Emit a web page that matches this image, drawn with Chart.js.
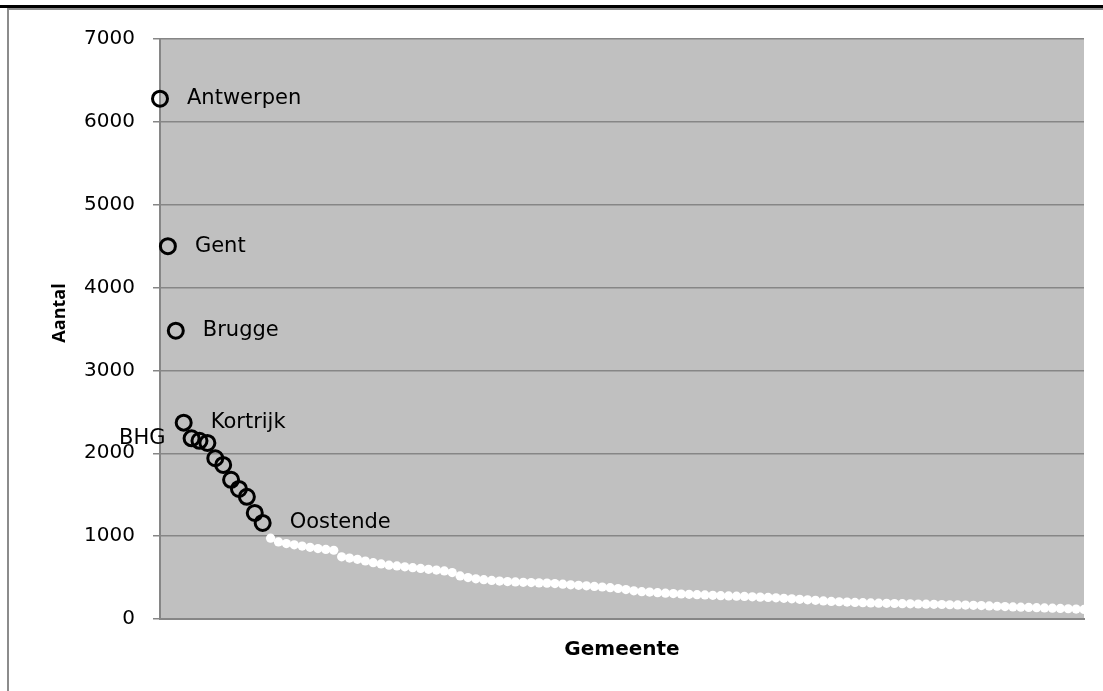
<!DOCTYPE html>
<html>
<head>
<meta charset="utf-8">
<script src="https://cdn.jsdelivr.net/npm/chart.js@4/dist/chart.umd.min.js"></script>
<style>
  html, body { margin: 0; padding: 0; background: #fff; }
  #wrap { width: 1103px; height: 691px; position: relative; }
</style>
</head>
<body>
<div id="wrap"><canvas id="chart"></canvas></div>
<script>
// Grootste gemeenten (omcirkeld) en overige gemeenten (witte punten)
const grote = [6280, 4500, 3480, 2370, 2180, 2150, 2125, 1940, 1860, 1680, 1570, 1475, 1280, 1160];
const overige = [
    975, 930, 910, 895, 880, 865, 850, 840, 830, 750,
    735, 720, 700, 680, 665, 650, 640, 630, 620, 610,
    600, 590, 580, 560, 520, 500, 485, 475, 465, 458,
    452, 447, 443, 440, 436, 433, 428, 420, 413, 406,
    400, 393, 386, 378, 368, 355, 340, 330, 325, 318,
    312, 307, 302, 298, 294, 290, 286, 282, 278, 275,
    272, 268, 264, 260, 256, 250, 244, 238, 232, 225,
    218, 212, 208, 204, 200, 197, 194, 191, 189, 187,
    185, 183, 181, 179, 177, 175, 172, 170, 168, 165,
    162, 158, 154, 150, 146, 143, 140, 137, 134, 131,
    128, 124, 120, 116
];
const labelNamen = ['Antwerpen', 'Gent', 'Brugge', 'Kortrijk', 'BHG', '', '', '', '', '', '', '', '', 'Oostende'];
const yTicks = [0, 1000, 2000, 3000, 4000, 5000, 6000, 7000];

const n = grote.length + overige.length;
const categories = Array.from({ length: n }, (_, i) => String(i + 1));
const groteData = [...grote, ...Array(overige.length).fill(null)];
const overigeData = [...Array(grote.length).fill(null), ...overige];

const lijnKleur = '#868686';

// grijze plotachtergrond, kader van de pagina en y-astitel
const achtergrond = {
    id: 'achtergrond',
    beforeDraw(chart) {
        const { ctx, chartArea: a } = chart;
        ctx.save();
        ctx.fillStyle = '#c0c0c0';
        ctx.fillRect(a.left, a.top, a.right - a.left, a.bottom - a.top);
        ctx.restore();
    },
    afterDraw(chart) {
        const ctx = chart.ctx;
        ctx.save();
        ctx.fillStyle = '#000';
        ctx.fillRect(0, 5, 1103, 3);
        ctx.fillStyle = '#8c8c8c';
        ctx.fillRect(7, 8, 1096, 2);
        ctx.fillRect(7, 8, 2, 683);
        // Aantal (iets boven het midden, zoals in het origineel)
        ctx.translate(60, 313);
        ctx.rotate(-Math.PI / 2);
        ctx.font = 'bold 18px "Open Sans"';
        ctx.fillStyle = '#000';
        ctx.textAlign = 'center';
        ctx.textBaseline = 'middle';
        ctx.fillText('Aantal', 0, 0);
        ctx.restore();
    }
};

// namen naast de omcirkelde punten
const namen = {
    id: 'namen',
    afterDatasetsDraw(chart) {
        const ctx = chart.ctx;
        const meta = chart.getDatasetMeta(0);
        ctx.save();
        ctx.font = '21px "DejaVu Sans"';
        ctx.fillStyle = '#000';
        ctx.textBaseline = 'middle';
        labelNamen.forEach((naam, i) => {
            if (!naam) return;
            const pt = meta.data[i];
            if (naam === 'BHG') {
                ctx.textAlign = 'right';
                ctx.fillText(naam, pt.x - 26, pt.y);
            } else {
                ctx.textAlign = 'left';
                ctx.fillText(naam, pt.x + 27, pt.y);
            }
        });
        ctx.restore();
    }
};

new Chart(document.getElementById('chart'), {
    type: 'line',
    data: {
        labels: categories,
        datasets: [
            {
                label: 'Grote gemeenten',
                data: groteData,
                showLine: false,
                pointStyle: 'circle',
                pointRadius: 7.5,
                pointBorderWidth: 3,
                pointBorderColor: '#000',
                pointBackgroundColor: 'rgba(0,0,0,0)',
                clip: false
            },
            {
                label: 'Overige gemeenten',
                data: overigeData,
                showLine: false,
                pointRadius: 4.6,
                pointBorderWidth: 0,
                pointBackgroundColor: '#fff',
                pointBorderColor: '#fff',
                clip: false
            }
        ]
    },
    options: {
        responsive: true,
        maintainAspectRatio: false,
        animation: false,
        layout: { padding: { left: 0, right: 19, top: 39, bottom: 0 } },
        plugins: {
            legend: { display: false },
            tooltip: { enabled: false }
        },
        scales: {
            x: {
                type: 'category',
                offset: false,
                ticks: { display: false },
                grid: { display: false, drawTicks: false },
                border: { color: lijnKleur, width: 2 },
                title: {
                    display: true,
                    text: 'Gemeente',
                    color: '#000',
                    font: { family: 'DejaVu Sans', size: 20, weight: 'bold' },
                    padding: { top: 19, bottom: 29 }
                },
                afterFit(scale) { scale.height = 72; }
            },
            y: {
                min: 0,
                max: 7000,
                afterBuildTicks(scale) { scale.ticks = yTicks.map(v => ({ value: v })); },
                ticks: {
                    color: '#000',
                    padding: 18,
                    font: { family: 'DejaVu Sans', size: 20 },
                    callback: v => String(v)
                },
                grid: { color: lijnKleur, lineWidth: 1.5, tickLength: 7 },
                border: { color: lijnKleur, width: 2 },
                afterFit(scale) { scale.width = 160; }
            }
        }
    },
    plugins: [achtergrond, namen]
});
</script>
</body>
</html>
